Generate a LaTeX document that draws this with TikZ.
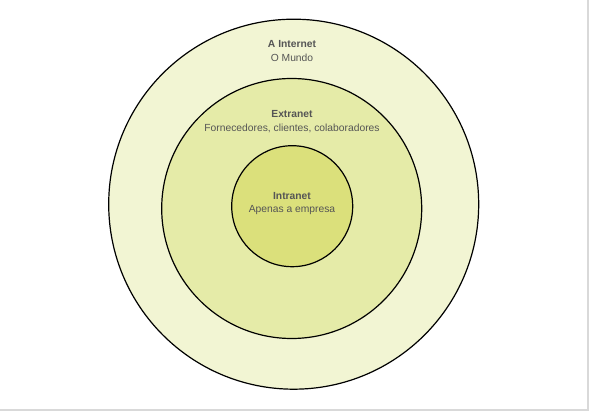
\documentclass[tikz,border=0pt]{standalone}
\usepackage{fontspec}
\setmainfont{Liberation Sans}
\definecolor{outerfill}{RGB}{242,245,211}
\definecolor{midfill}{RGB}{229,235,168}
\definecolor{innerfill}{RGB}{219,224,123}
\definecolor{txt}{RGB}{85,85,85}
\definecolor{frame}{RGB}{217,217,217}
\tikzset{
  ring/.style={draw=black, line width=1.2pt},
  ttl/.style={text=txt, font=\fontsize{10.3}{12}\selectfont\bfseries, inner sep=0pt},
  sub/.style={text=txt, font=\fontsize{10.3}{12}\selectfont, inner sep=0pt}
}
\begin{document}
\begin{tikzpicture}[x=1pt,y=-1pt]
\useasboundingbox (0,0) rectangle (590,411);
\fill[white] (0,0) rectangle (590,411);
\draw[frame, line width=1.2pt] (588,0) -- (588,410) -- (0,410);
\path[ring, fill=outerfill] (293.7,204.2) circle (185);
\path[ring, fill=midfill] (291.7,208.5) circle (130);
\path[ring, fill=innerfill] (292.2,206.2) circle (60.5);
\node[ttl] (inet) at (292,44.5) {A Internet};
\node[sub] (inetsub) at (292,57.5) {O Mundo};
\node[ttl] (ext) at (292,114.5) {Extranet};
\node[sub] (extsub) at (292,128) {Fornecedores, clientes, colaboradores};
\node[ttl] (intr) at (292,196.5) {Intranet};
\node[sub] (intrsub) at (292,210) {Apenas a empresa};
\end{tikzpicture}
\end{document}
